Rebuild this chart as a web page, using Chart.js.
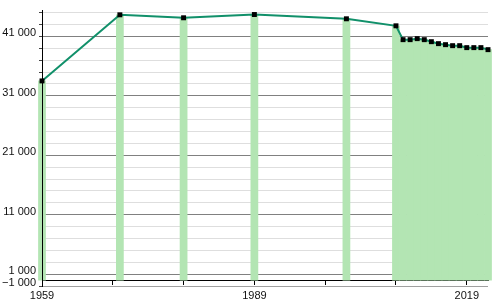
<!DOCTYPE html>
<html>
<head>
<meta charset="utf-8">
<script src="https://cdn.jsdelivr.net/npm/chart.js@4/dist/chart.umd.min.js"></script>
<style>
  html, body { margin: 0; padding: 0; background: #fff; }
  #wrap { width: 500px; height: 300px; position: relative; }
</style>
</head>
<body>
<div id="wrap"><canvas id="popChart"></canvas></div>
<script>
const years = [1959, 1970, 1979, 1989, 2002, 2009, 2010, 2011, 2012, 2013, 2014, 2015, 2016, 2017, 2018, 2019, 2020, 2021, 2022];
const population = [33500, 44620, 44120, 44670, 43950, 42770, 40440, 40440, 40610, 40440, 40100, 39770, 39600, 39430, 39430, 39100, 39100, 39100, 38760];

const xTicks = [1959, 1969, 1979, 1989, 1999, 2009, 2019];
const xLabels = [1959, 1989, 2019];
const yTicks = [-1000, 1000, 3000, 5000, 7000, 9000, 11000, 13000, 15000, 17000, 19000, 21000, 23000, 25000, 27000, 29000, 31000, 33000, 35000, 37000, 39000, 41000, 43000, 45000];
const yLabels = [-1000, 1000, 11000, 21000, 31000, 41000];

Chart.defaults.font.family = "'Liberation Sans', Arial, sans-serif";
Chart.defaults.font.size = 11;
Chart.defaults.color = "#111";

function formatNum(v) {
  const s = String(Math.abs(v)).replace(/\B(?=(\d{3})+(?!\d))/g, " ");
  return (v < 0 ? "\u2212" : "") + s;
}

const points = years.map((y, i) => ({ x: y, y: population[i] }));

// redraw the y axis line on top of the first bar
const axisOnTop = {
  id: "axisOnTop",
  afterDatasetsDraw(chart) {
    const { ctx, chartArea } = chart;
    const zero = chart.scales.y.getPixelForValue(0);
    ctx.save();
    ctx.strokeStyle = "#000";
    ctx.lineWidth = 1;
    ctx.beginPath();
    ctx.moveTo(Math.round(chartArea.left) + 0.5, chartArea.top);
    ctx.lineTo(Math.round(chartArea.left) + 0.5, zero + 2);
    ctx.stroke();
    ctx.restore();
  },
};

new Chart(document.getElementById("popChart"), {
  data: {
    datasets: [
      {
        type: "line",
        data: points,
        order: 0,
        borderColor: "#11906a",
        borderWidth: 2,
        tension: 0,
        pointStyle: "rect",
        pointRadius: 3.5,
        pointBackgroundColor: "#000",
        pointBorderWidth: 0,
        clip: false,
      },
      {
        type: "bar",
        data: points,
        order: 1,
        backgroundColor: "#b3e5b3",
        borderWidth: 0,
        barPercentage: 1,
        categoryPercentage: 1,
        clip: false,
      },
    ],
  },
  options: {
    responsive: true,
    maintainAspectRatio: false,
    animation: false,
    layout: { padding: { top: 10, right: 12, bottom: 14, left: 0 } },
    plugins: { legend: { display: false }, tooltip: { enabled: false } },
    scales: {
      x: {
        type: "linear",
        position: { y: 0 },
        offset: false,
        min: 1959,
        max: 2022,
        afterBuildTicks: (scale) => {
          scale.ticks = xTicks.map((v) => ({ value: v }));
        },
        ticks: {
          autoSkip: false,
          maxRotation: 0,
          padding: 5,
          color: "#111",
          callback: (v) => (xLabels.includes(v) ? String(v) : ""),
        },
        grid: {
          offset: false,
          drawOnChartArea: false,
          drawTicks: true,
          tickLength: 4,
          tickColor: "#000",
        },
        border: { color: "#000", width: 1 },
      },
      y: {
        type: "linear",
        min: -1000,
        max: 45430,
        afterBuildTicks: (scale) => {
          scale.ticks = yTicks.map((v) => ({ value: v }));
        },
        afterFit: (scale) => {
          scale.width = 42;
        },
        ticks: {
          autoSkip: false,
          padding: 3,
          labelOffset: -3,
          color: "#111",
          callback: (v) => (yLabels.includes(v) ? formatNum(v) : ""),
        },
        grid: {
          tickLength: 3,
          tickColor: "#444",
          color: (c) => {
            const v = c.tick.value;
            if (v === -1000) return "#a0a0a0";
            if (yLabels.includes(v)) return "#808080";
            return "#dedede";
          },
        },
        border: { color: "#000", width: 1 },
      },
    },
  },
  plugins: [axisOnTop],
});
</script>
</body>
</html>
